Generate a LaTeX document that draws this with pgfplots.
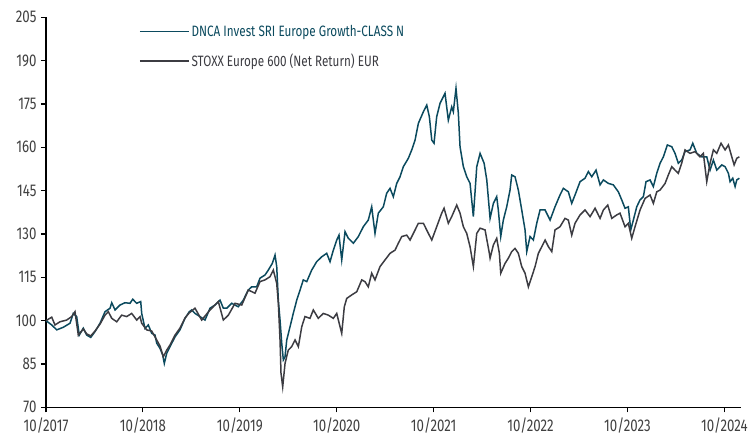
\documentclass[border=0pt]{standalone}
\usepackage{pgfplots}
\pgfplotsset{compat=1.18}
\usepackage{fontspec}
\setmainfont{Fira Sans}[FakeStretch=0.78]
\definecolor{fund}{HTML}{0B4A5E}
\definecolor{bench}{HTML}{3C3C42}
\definecolor{ticktxt}{HTML}{404040}
\begin{document}
\begin{tikzpicture}
\begin{axis}[
  scale only axis,
  width=694.5bp, height=390bp,
  xmin=0, xmax=86, ymin=70, ymax=205,
  axis lines*=left,
  axis line style={black, line width=1.1bp},
  xtick={0,12,24,36,48,60,72,84},
  xticklabels={10/2017,10/2018,10/2019,10/2020,10/2021,10/2022,10/2023,10/2024},
  ytick={70,85,...,205},
  tick style={black, line width=1.1bp},
  tick align=outside,
  major tick length=5bp,
  tick label style={font=\fontsize{17bp}{18bp}\selectfont, text=ticktxt},
  /pgf/number format/assume math mode=true,
  xticklabel style={yshift=-2bp},
  yticklabel style={xshift=-1bp},
  legend style={at={(axis description cs:0.134,0.985)}, anchor=north west,
    draw=none, fill=none, inner sep=0pt, row sep=12bp,
    font=\fontsize{15bp}{16bp}\selectfont, cells={anchor=west}},
  legend image code/.code={\draw[#1, line width=1.3bp] (-2bp,0bp) -- (47bp,0bp);},
  clip=false,
]
\addplot[fund, line width=1.5bp] coordinates {
(0,100)(0.71,98.5)(1.33,96.8)(2.14,97.7)(2.97,99.1)(3.38,102.5)(3.80,101.4)(4.12,95.0)(4.62,97.4)(5.04,95.0)(5.54,94.2)(6.07,96.2)(6.69,99.1)(7.31,103.1)(7.93,104.3)(8.14,106.2)(8.55,103.7)(9.16,105.4)(9.78,106.2)(10.40,106.0)(10.74,107.4)(11.23,106.0)(11.73,106.6)(11.85,102.5)(12.26,97.3)(12.67,98.5)(13.09,95.6)(13.50,95.0)(13.71,92.2)(14.12,90.4)(14.45,88.1)(14.65,85.2)(14.95,88.7)(15.36,91.0)(15.98,94.4)(16.59,96.8)(17.21,100.8)(17.75,103.1)(18.04,103.7)(18.45,102.5)(19.07,101.4)(19.69,100.2)(20.31,104.3)(20.93,105.4)(21.55,107.1)(21.96,104.3)(22.38,104.3)(23.00,106.0)(23.81,104.8)(24.43,107.1)(25.05,110.6)(25.47,111.7)(26.09,111.7)(26.50,114.7)(27.12,115.8)(27.53,117.5)(28.02,119.8)(28.36,122.7)(28.57,118.7)(28.77,107.1)(28.98,100.2)(29.19,92.2)(29.39,86.4)(29.60,87.5)(29.81,93.3)(30.22,97.9)(30.62,102.5)(31.05,107.1)(31.46,110.6)(31.86,114.1)(32.29,113.5)(32.90,117.5)(33.52,120.4)(34.14,122.1)(34.76,123.3)(35.17,120.4)(35.58,124.4)(36.00,127.9)(36.28,129.6)(36.62,121.0)(37.03,130.8)(37.44,128.5)(38.06,126.8)(38.68,129.1)(39.29,132.5)(39.91,134.8)(40.33,139.4)(40.74,130.2)(41.15,137.2)(41.77,139.4)(42.19,144.1)(42.60,145.8)(43.01,142.9)(43.43,147.5)(43.84,149.8)(44.25,153.3)(44.87,156.2)(45.29,159.1)(45.70,162.5)(46.11,168.3)(46.73,172.3)(47.15,174.6)(47.47,170.6)(47.77,162.5)(48.05,161.4)(48.38,170.6)(48.79,175.2)(49.41,178.7)(49.82,169.4)(50.24,174.0)(50.44,172.3)(50.77,180.4)(51.06,171.8)(51.27,160.2)(51.68,153.3)(52.10,149.8)(52.51,147.5)(52.92,136.0)(53.34,153.3)(53.75,157.9)(54.25,154.5)(54.58,148.7)(54.99,135.4)(55.40,140.6)(55.81,142.9)(56.01,138.3)(56.31,129.1)(56.63,134.8)(57.05,139.4)(57.46,145.2)(57.67,150.4)(58.08,149.8)(58.49,145.2)(58.91,138.3)(59.32,131.4)(59.53,123.9)(59.94,129.1)(60.35,127.9)(60.77,133.7)(61.18,138.3)(61.80,138.3)(62.42,134.8)(63.03,139.4)(63.65,143.5)(64.06,145.8)(64.68,144.6)(65.10,140.6)(65.51,143.5)(66.13,148.1)(66.75,149.3)(67.16,151.6)(67.58,149.8)(68.11,152.1)(68.61,147.0)(69.02,148.7)(69.64,147.5)(70.25,147.0)(70.87,144.6)(71.29,141.8)(71.70,138.9)(72.11,139.4)(72.41,131.4)(72.73,134.8)(73.15,139.4)(73.56,141.8)(73.97,142.9)(74.30,148.1)(74.80,148.7)(75.21,146.4)(75.63,151.0)(76.04,154.5)(76.45,156.7)(76.94,160.8)(77.49,160.2)(77.89,157.9)(78.30,154.5)(78.72,155.6)(79.13,158.5)(79.75,159.1)(80.09,161.4)(80.58,157.9)(81.20,156.7)(81.82,156.7)(82.23,152.1)(82.64,155.6)(83.06,152.1)(83.68,153.9)(84.09,153.3)(84.50,151.0)(84.71,148.1)(85.04,149.3)(85.33,146.4)(85.54,148.7)(85.86,149.3)
};
\addlegendentry{\textcolor{fund}{DNCA Invest SRI Europe Growth-CLASS N}}
\addplot[bench, line width=1.5bp] coordinates {
(0,100)(0.71,101.2)(1.11,98.5)(1.73,99.6)(2.56,100.2)(3.18,101.4)(3.59,103.1)(4.00,95.0)(4.62,97.1)(5.04,95.4)(5.54,94.7)(6.07,96.4)(6.69,98.8)(7.31,101.9)(7.72,103.1)(8.14,100.8)(8.76,99.6)(9.37,101.9)(9.99,101.4)(10.61,102.5)(11.23,100.2)(11.64,101.4)(11.85,99.1)(12.47,96.8)(13.09,96.4)(13.71,93.3)(14.12,91.2)(14.53,87.5)(14.95,89.8)(15.36,91.6)(15.98,95.0)(16.59,97.4)(17.21,100.9)(17.71,102.6)(18.45,104.3)(19.28,100.2)(20.31,103.7)(21.34,106.6)(21.96,100.2)(22.58,101.9)(23.41,106.0)(24.24,105.4)(25.05,110.6)(25.88,109.5)(26.50,113.5)(27.12,114.1)(27.74,115.2)(28.15,117.5)(28.57,112.9)(28.77,106.0)(28.98,93.3)(29.10,81.8)(29.31,77.1)(29.60,85.2)(30.00,89.8)(30.42,91.0)(30.84,93.3)(31.25,91.0)(31.67,97.9)(32.07,101.4)(32.69,100.8)(33.10,103.7)(33.72,100.8)(34.34,102.5)(34.96,101.9)(35.58,100.8)(36.00,102.5)(36.62,95.6)(36.94,104.8)(37.24,107.7)(37.86,108.9)(38.48,110.0)(39.10,114.1)(39.50,113.5)(39.91,111.7)(40.33,116.4)(40.74,114.1)(41.36,118.7)(41.98,121.0)(42.60,123.3)(43.22,124.4)(43.63,126.8)(44.05,129.1)(44.67,129.6)(45.08,127.9)(45.49,130.2)(46.11,133.7)(46.73,133.7)(47.35,130.2)(47.77,127.9)(48.38,132.5)(49.00,137.2)(49.29,138.9)(49.82,133.7)(50.24,136.0)(50.86,140.0)(51.27,137.2)(51.68,132.5)(52.10,130.2)(52.51,125.6)(52.92,118.7)(53.34,130.2)(53.75,132.0)(54.37,131.4)(54.90,123.3)(54.99,121.6)(55.40,126.2)(55.81,128.5)(56.14,123.3)(56.31,116.4)(56.84,119.8)(57.25,121.6)(57.67,123.9)(58.08,125.0)(58.49,123.3)(58.91,118.7)(59.32,116.4)(59.73,111.7)(60.15,115.2)(60.56,118.7)(60.97,123.3)(61.39,125.6)(61.80,127.9)(62.21,125.6)(62.63,123.9)(63.03,131.4)(63.65,132.5)(64.27,135.4)(64.68,134.8)(65.10,129.6)(65.51,133.7)(66.13,136.6)(66.75,138.3)(67.37,136.0)(67.99,138.9)(68.61,135.4)(69.02,138.3)(69.56,140.0)(70.06,135.4)(70.68,136.6)(71.08,137.2)(71.70,132.5)(72.11,133.7)(72.53,128.5)(72.94,132.5)(73.56,138.3)(74.18,142.3)(74.80,143.5)(75.21,140.6)(75.63,144.6)(76.04,145.2)(76.66,147.5)(77.06,150.4)(77.49,153.3)(77.89,152.1)(78.30,151.0)(78.72,154.5)(79.13,159.1)(79.75,157.9)(80.37,158.5)(80.99,156.7)(81.40,157.9)(81.82,148.1)(82.23,154.5)(82.64,159.1)(83.06,157.9)(83.59,161.4)(84.09,159.1)(84.50,160.8)(84.92,156.7)(85.21,153.9)(85.54,156.2)(85.86,156.7)
};
\addlegendentry{\textcolor{bench}{STOXX Europe 600 (Net Return) EUR}}
\coordinate (sw) at (rel axis cs:0,0);
\coordinate (ne) at (rel axis cs:1,1);
\end{axis}
\pgfresetboundingbox
\path ([shift={(-46bp,-35.7bp)}]sw) rectangle ([shift={(8.5bp,17.3bp)}]ne);
\end{tikzpicture}
\end{document}
